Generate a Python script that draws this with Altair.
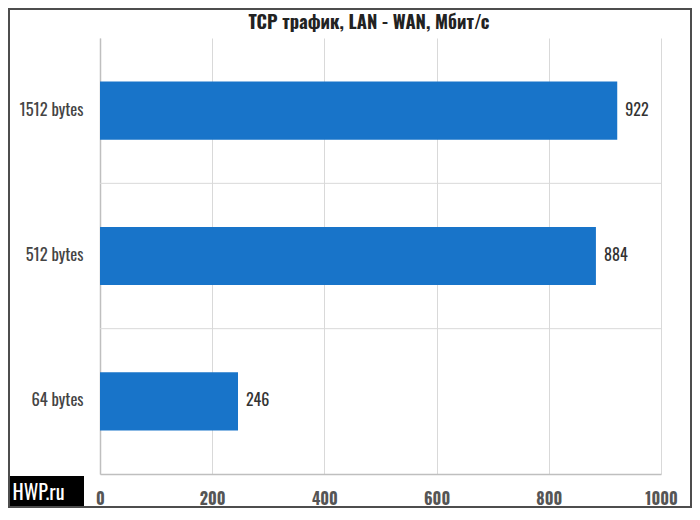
import altair as alt
import pandas as pd

categories = ["1512 bytes", "512 bytes", "64 bytes"]
values = [922, 884, 246]
x_ticks = [0, 200, 400, 600, 800, 1000]
title_text = ["TCP трафик, LAN - WAN, Мбит/с"]
badge_text = ["HWP.ru"]

FONT = "Oswald, Roboto Condensed, Liberation Sans Narrow, DejaVu Sans Condensed, Roboto, sans-serif"
BLUE = "#1874C9"

df = pd.DataFrame({"cat": categories, "val": values})
sep_df = pd.DataFrame({"cat": categories[:-1]})

y_enc = alt.Y(
    "cat:N",
    sort=categories,
    scale=alt.Scale(domain=categories, paddingInner=0, paddingOuter=0),
    axis=alt.Axis(
        title=None, ticks=False, grid=False, domainColor="#bfbfbf", domainWidth=1.5,
        labelFont=FONT, labelFontSize=16.5, labelColor="#444444", labelPadding=17,
    ),
)
x_enc = alt.X(
    "val:Q",
    scale=alt.Scale(domain=[0, 1000], nice=False),
    axis=alt.Axis(
        title=None, values=x_ticks, format="d", ticks=False, grid=True, gridColor="#d9d9d9",
        domainColor="#bfbfbf", domainWidth=1.5, labelFont=FONT, labelFontSize=16,
        labelFontWeight="bold", labelColor="#555555", labelPadding=17,
        labelFlush=False, labelOverlap=False,
    ),
)

seps = alt.Chart(sep_df).mark_rule(color="#d9d9d9", strokeWidth=1).encode(
    y=alt.Y("cat:N", sort=categories, bandPosition=1)
)

bars = alt.Chart(df).mark_bar(color=BLUE, height=alt.RelativeBandSize(0.4)).encode(
    x=x_enc, y=y_enc
)

labels = alt.Chart(df).mark_text(
    align="left", baseline="middle", dx=8, font=FONT, fontSize=16, color="#333333"
).encode(x="val:Q", y=alt.Y("cat:N", sort=categories), text="val:Q")

title = alt.Chart(pd.DataFrame({"t": title_text})).mark_text(
    align="center", baseline="alphabetic", font=FONT, fontSize=18.5,
    fontWeight="bold", color="#222222"
).encode(x=alt.value(269), y=alt.value(-9), text="t:N")

badge_box = alt.Chart(pd.DataFrame({"t": badge_text})).mark_rect(color="#000000").encode(
    x=alt.value(-92), x2=alt.value(-16), y=alt.value(438), y2=alt.value(470)
)
badge = alt.Chart(pd.DataFrame({"t": badge_text})).mark_text(
    align="center", baseline="alphabetic", font=FONT, fontSize=20, color="#ffffff"
).encode(x=alt.value(-61.5), y=alt.value(462), text="t:N")

frame = alt.Chart(pd.DataFrame({"t": badge_text})).mark_rect(
    fillOpacity=0, stroke="#4d4d4d", strokeWidth=2
).encode(x=alt.value(-91), x2=alt.value(591), y=alt.value(-29), y2=alt.value(469))

chart = alt.layer(seps, bars, labels, title, badge_box, badge, frame).properties(
    width=561,
    height=436,
    autosize=alt.AutoSizeParams(type="none"),
    padding={"left": 92, "top": 30, "right": 31, "bottom": 34},
    background="#ffffff",
).configure_view(stroke=None)

chart.save("out.html", embed_options={"renderer": "svg", "actions": False})
